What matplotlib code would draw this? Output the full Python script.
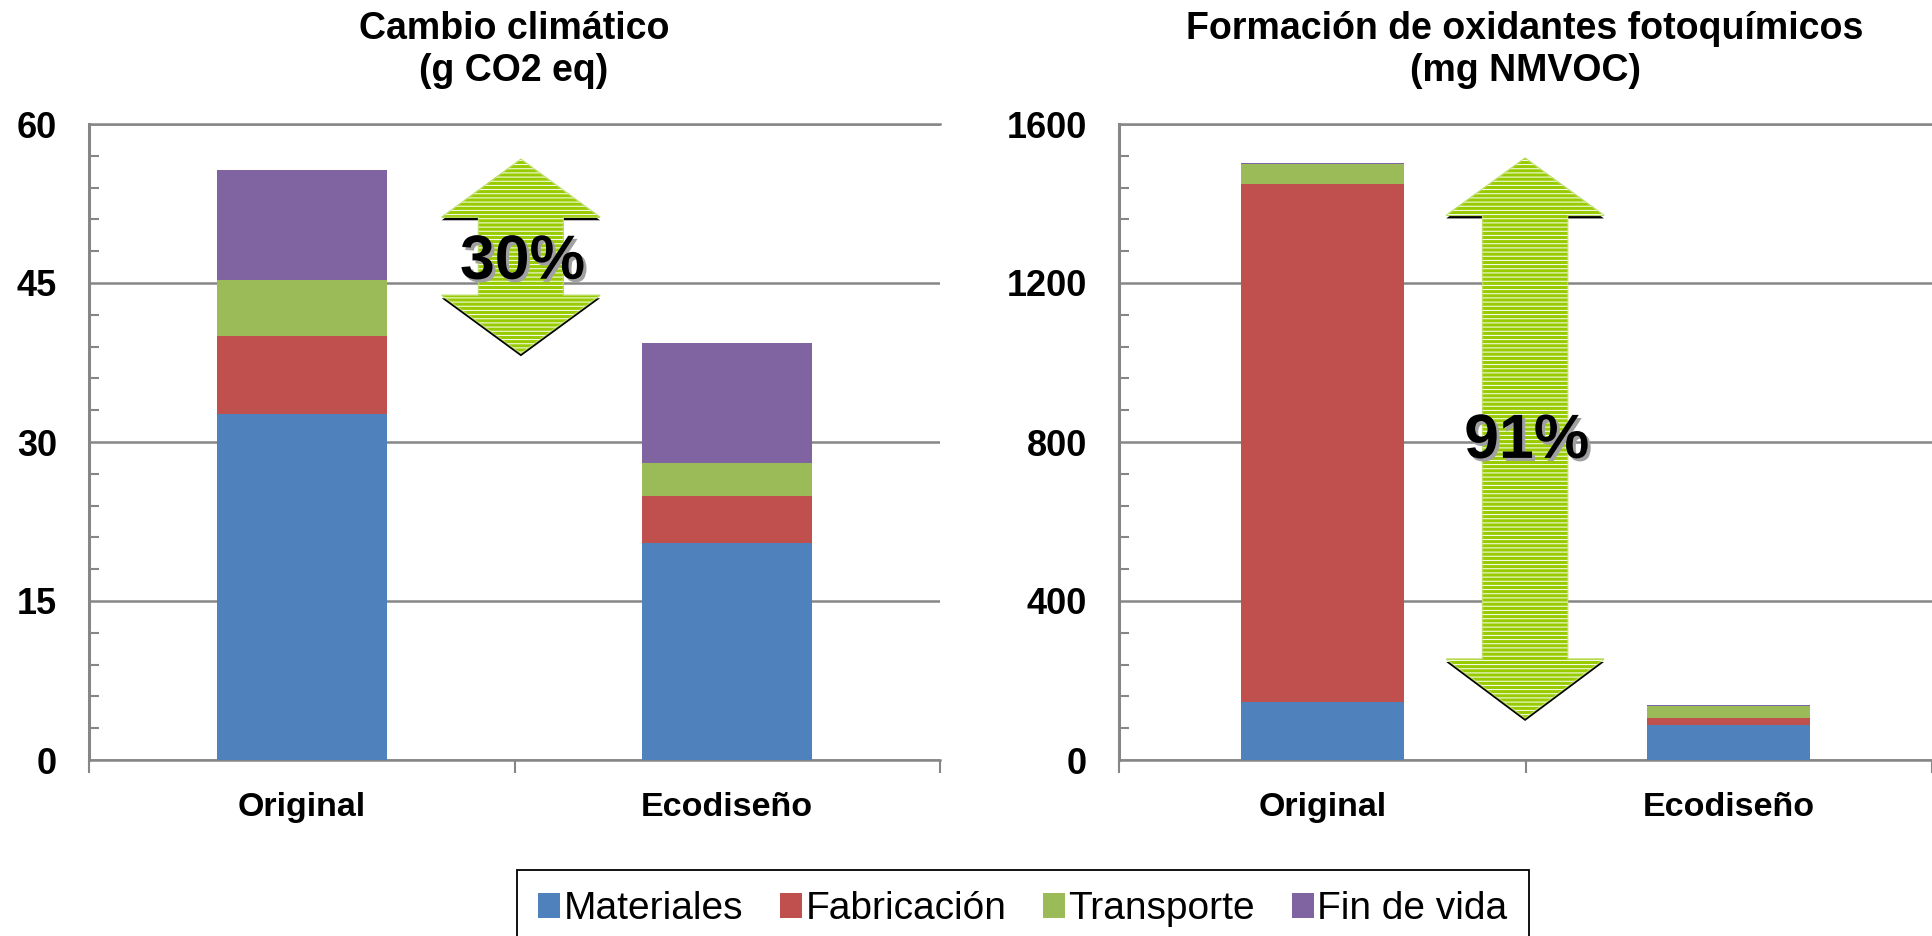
import numpy as np
import matplotlib
matplotlib.use('Agg')
import matplotlib.pyplot as plt
from matplotlib.patches import Polygon, Patch
import matplotlib.patheffects as pe
import matplotlib.transforms as mtransforms
from matplotlib.ticker import MultipleLocator

plt.rcParams['font.family'] = ['Liberation Sans', 'DejaVu Sans']
plt.rcParams['hatch.linewidth'] = 0.7

# ---------------- data ----------------
categories = ['Original', 'Ecodiseño']
stages = ['Materiales', 'Fabricación', 'Transporte', 'Fin de vida']

cc_materiales = [32.6, 20.5]
cc_fabricacion = [7.4, 4.4]
cc_transporte = [5.3, 3.1]
cc_fin_vida = [10.4, 11.3]

pof_materiales = [147, 89]
pof_fabricacion = [1303, 16]
pof_transporte = [50, 31]
pof_fin_vida = [3, 2]

cc_ticks = [0, 15, 30, 45, 60]
pof_ticks = [0, 400, 800, 1200, 1600]

cc_title = 'Cambio climático\n(g CO2 eq)'
pof_title = 'Formación de oxidantes fotoquímicos\n(mg NMVOC)'
reductions = ['30%', '91%']

colors = ['#4F81BD', '#C0504D', '#9BBB59', '#8064A2']
grey = '#868686'

W, H = 1932, 936
fig = plt.figure(figsize=(W / 100, H / 100), dpi=100)


def axrect(l, r, t, b):
    return [l / W, 1 - b / H, (r - l) / W, (b - t) / H]


ax1 = fig.add_axes(axrect(89, 940, 124, 760))
ax2 = fig.add_axes(axrect(1119, 1932, 124, 760))


def style(ax, ticks, minor_step):
    ax.set_xlim(-0.5, 1.5)
    ax.set_ylim(ticks[0], ticks[-1])
    ax.set_yticks(ticks)
    ax.yaxis.set_minor_locator(MultipleLocator(minor_step))
    ax.tick_params(axis='y', which='major', length=0, pad=23, labelsize=26)
    ax.tick_params(axis='y', which='minor', direction='in', length=7.2,
                   width=1.5, color=grey)
    ax.set_xticks([-0.5, 0.5, 1.5])
    ax.set_xticklabels([])
    ax.set_xticks([0, 1], minor=True)
    ax.set_xticklabels(categories, minor=True)
    ax.tick_params(axis='x', which='major', direction='out', length=9.5,
                   width=1.5, color=grey)
    ax.tick_params(axis='x', which='minor', length=0, pad=23, labelsize=24.5)
    for lab in ax.get_yticklabels() + ax.get_xticklabels(minor=True):
        lab.set_fontweight('bold')
    ax.grid(axis='y', which='major', color=grey, lw=1.8)
    ax.set_axisbelow(True)
    for s in ['left', 'bottom', 'top']:
        ax.spines[s].set_color(grey)
        ax.spines[s].set_linewidth(1.8)
    ax.spines['left'].set_linewidth(2.2)
    ax.spines['right'].set_visible(False)


def stacked(ax, series):
    x = np.arange(len(categories))
    bottom = np.zeros(len(categories))
    for vals, c in zip(series, colors):
        ax.bar(x, vals, width=0.40, bottom=bottom, color=c, zorder=3)
        bottom = bottom + np.array(vals)


def double_arrow(ax, cx, hw, sw, y_tip_top, y_base_top, y_base_bot, y_tip_bot):
    pts = [(cx, y_tip_top), (cx + hw, y_base_top), (cx + sw, y_base_top),
           (cx + sw, y_base_bot), (cx + hw, y_base_bot), (cx, y_tip_bot),
           (cx - hw, y_base_bot), (cx - sw, y_base_bot), (cx - sw, y_base_top),
           (cx - hw, y_base_top)]
    shadow_tr = mtransforms.offset_copy(ax.transData, fig=fig, x=0, y=-3, units='dots')
    ax.add_patch(Polygon(pts, closed=True, fc='black', ec='none',
                         transform=shadow_tr, zorder=4))
    ax.add_patch(Polygon(pts, closed=True, fc='#99CC00', ec='#B5DA55', lw=1.0, zorder=5))
    ax.add_patch(Polygon(pts, closed=True, fc='none', ec='white', lw=0,
                         hatch='----', zorder=6))


style(ax1, cc_ticks, 3)
style(ax2, pof_ticks, 80)
stacked(ax1, [cc_materiales, cc_fabricacion, cc_transporte, cc_fin_vida])
stacked(ax2, [pof_materiales, pof_fabricacion, pof_transporte, pof_fin_vida])

double_arrow(ax1, 0.515, 0.186, 0.0996, 56.67, 51.2, 43.84, 38.37)
double_arrow(ax2, 0.499, 0.194, 0.1046, 1514, 1370, 254, 105.7)

txt_fx = [pe.SimplePatchShadow(offset=(2.2, -2.2), shadow_rgbFace='#A0A0A0', alpha=1.0),
          pe.Normal()]
ax1.text(0.519, 45.4, reductions[0], ha='center', va='baseline', fontsize=45,
         fontweight='bold', zorder=10, path_effects=txt_fx)
ax2.text(0.503, 760, reductions[1], ha='center', va='baseline', fontsize=45,
         fontweight='bold', zorder=10, path_effects=txt_fx)

fig.text(514 / W, 1 - 50 / H, cc_title, ha='center', va='center', fontsize=27,
         fontweight='bold', linespacing=1.22)
fig.text(1525 / W, 1 - 50 / H, pof_title, ha='center', va='center', fontsize=27,
         fontweight='bold', linespacing=1.22)

handles = [Patch(fc=c, ec='none') for c in colors]
leg = fig.legend(handles, stages, loc='upper center',
                 bbox_to_anchor=(1023 / W, 1 - 870 / H), bbox_transform=fig.transFigure,
                 ncol=4, fontsize=28, frameon=True, fancybox=False,
                 edgecolor='black', handlelength=0.55, handleheight=0.6,
                 handletextpad=0.1, columnspacing=0.95, borderpad=0.55,
                 borderaxespad=0)
leg.get_frame().set_linewidth(1.3)
leg.get_frame().set_alpha(1)

fig.savefig('out.png', dpi=100)
